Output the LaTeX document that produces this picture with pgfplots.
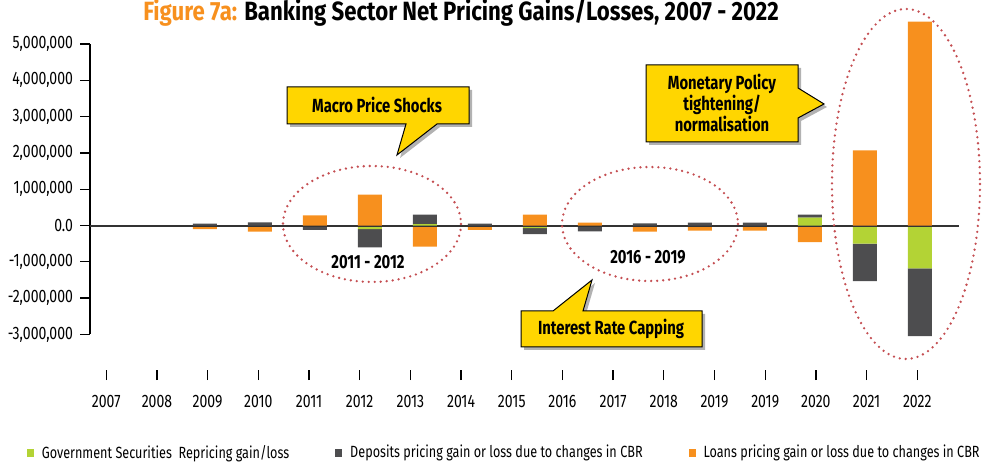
\documentclass[border=0pt]{standalone}
\usepackage{fontspec}
\setmainfont{Fira Sans}[FakeStretch=0.78]
\newfontfamily\titlefont{Fira Sans}[FakeStretch=0.84]
\usepackage{pgfplots}
\usepackage{pgfplotstable}
\pgfplotsset{compat=1.18}

\definecolor{gsec}{RGB}{179,211,53}
\definecolor{dep}{RGB}{77,77,79}
\definecolor{loan}{RGB}{247,144,30}
\definecolor{callout}{RGB}{255,214,0}
\definecolor{dots}{RGB}{196,78,82}

% i = bar position, values in KSh
\pgfplotstableread{
i year gsec dep loan
2 2009 0 50000 -100000
3 2010 0 90000 -165000
4 2011 -30000 -90000 280000
5 2012 -100000 -500000 850000
6 2013 40000 260000 -580000
7 2014 0 50000 -120000
8 2015 -70000 -170000 300000
9 2016 -40000 -120000 80000
10 2017 0 60000 -170000
11 2018 -40000 80000 -100000
12 2019 -40000 80000 -100000
13 2020 220000 80000 -460000
14 2021 -500000 -1030000 2070000
15 2022 -1180000 -1870000 5620000
}\pricing

\pgfplotsset{
  common/.style={
    scale only axis, width=434.5bp, height=177.5bp,
    xmin=-0.09, xmax=15.71, ymin=-3980000, ymax=5800000,
    ybar stacked, bar width=0.436, clip=false,
    scaled y ticks=false,
  },
}

\begin{document}
\begin{tikzpicture}
\begin{axis}[common, name=ax,
    axis line style={draw=none},
    tick align=outside, major tick length=5bp,
    tick style={black, line width=0.65bp},
    xtick pos=lower, ytick pos=left,
    xtick={0.205,1.127,2.048,2.970,3.892,4.813,5.735,6.656,7.578,8.499,9.421,10.343,11.264,12.186,13.107,14.029,14.951},
    xticklabels={2007,2008,2009,2010,2011,2012,2013,2014,2015,2016,2017,2018,2019,2019,2020,2021,2022},
    xticklabel style={yshift=-4bp},
    ytick={-3000000,-2000000,-1000000,0,1000000,2000000,3000000,4000000,5000000},
    yticklabels={{-3,000,000},{-2,000,000},{-1,000,000},{0.0},{1,000,000},{2,000,000},{3,000,000},{4,000,000},{5,000,000}},
    ticklabel style={font=\fontsize{9bp}{10bp}\selectfont},
    legend columns=3,
    legend style={at={(-0.08,-0.234)}, anchor=west, draw=none, fill=none,
      font=\fontsize{8.1bp}{9.5bp}\selectfont,
      /tikz/every even column/.append style={column sep=21bp}},
    legend image code/.code={\fill[#1,draw=none] (0bp,-2bp) rectangle (3.5bp,2bp);
      \path (5.5bp,0bp);},
  ]
\addplot[fill=gsec, draw=none] table[x=i, y expr={min(\thisrow{gsec},0)}] {\pricing};
\addlegendentry{Government Securities\ \ Repricing gain/loss}
\addplot[fill=dep, draw=none] table[x=i, y expr={min(\thisrow{dep},0)}] {\pricing};
\addlegendentry{Deposits pricing gain or loss due to changes in CBR}
\addplot[fill=loan, draw=none] table[x=i, y expr={min(\thisrow{loan},0)}] {\pricing};
\addlegendentry{Loans pricing gain or loss due to changes in CBR}
\end{axis}

\begin{axis}[common, at={(ax.south west)}, anchor=south west, hide axis]
\addplot[fill=gsec, draw=none] table[x=i, y expr={max(\thisrow{gsec},0)}] {\pricing};
\addplot[fill=dep, draw=none] table[x=i, y expr={max(\thisrow{dep},0)}] {\pricing};
\addplot[fill=loan, draw=none] table[x=i, y expr={max(\thisrow{loan},0)}] {\pricing};
\draw[line width=1bp, black!80] (axis cs:-0.09,0) -- (axis cs:15.71,0);
\draw[line width=0.65bp, black] (axis cs:-0.09,-3000000) -- (axis cs:-0.09,5000000);
\end{axis}

% annotations in reference pixel coordinates
\begin{scope}[shift={(ax.south west)}, xshift=-45bp, yshift=185bp, x=0.5bp, y=-0.5bp]
  \tikzset{dotty/.style={dots, line width=1.3bp, line cap=round, dash pattern=on 0bp off 3bp},
           call/.style={fill=callout, draw=black, line width=0.5bp, line join=miter},
           shad/.style={fill=black!30, draw=none}}
  \node[font=\titlefont\fontsize{13.2bp}{15bp}\selectfont\bfseries] at (461,13)
    {\textcolor{loan}{Figure 7a:} Banking Sector Net Pricing Gains/Losses, 2007 - 2022};

  \draw[dotty] (372,224) ellipse [x radius=89, y radius=58];
  \draw[dotty] (650,224) ellipse [x radius=88, y radius=57];
  \draw[dotty] (906,184) ellipse [x radius=74, y radius=175];

  \node[font=\fontsize{9.5bp}{11bp}\selectfont\bfseries] at (368,262) {2011 - 2012};
  \node[font=\fontsize{9.5bp}{11bp}\selectfont\bfseries] at (648,257) {2016 - 2019};

  \begin{scope}[shift={(1.5bp,-1.5bp)}]
    \fill[shad] (287,87) -- (469,87) -- (469,124) -- (437,124) -- (397,155) -- (406,124) -- (287,124) -- cycle;
    \fill[shad] (521,311) -- (553,311) -- (592,280) -- (583,311) -- (702,311) -- (702,347) -- (521,347) -- cycle;
    \fill[shad] (646,65) -- (798,65) -- (798,88) -- (824,104) -- (798,118) -- (798,142) -- (646,142) -- cycle;
  \end{scope}
  \draw[call] (287,87) -- (469,87) -- (469,124) -- (437,124) -- (397,155) -- (406,124) -- (287,124) -- cycle;
  \draw[call] (521,311) -- (553,311) -- (592,280) -- (583,311) -- (702,311) -- (702,347) -- (521,347) -- cycle;
  \draw[call] (646,65) -- (798,65) -- (798,88) -- (824,104) -- (798,118) -- (798,142) -- (646,142) -- cycle;

  \node[font=\fontsize{9.5bp}{11bp}\selectfont\bfseries] at (377,105) {Macro Price Shocks};
  \node[font=\fontsize{9.5bp}{11bp}\selectfont\bfseries] at (611,329) {Interest Rate Capping};
  \node[font=\fontsize{9.5bp}{10.5bp}\selectfont\bfseries, align=center] at (722,103)
    {Monetary Policy\\tightening/\\normalisation};

  \pgfresetboundingbox
  \path[use as bounding box] (0,0) rectangle (982,465);
\end{scope}
\end{tikzpicture}
\end{document}
